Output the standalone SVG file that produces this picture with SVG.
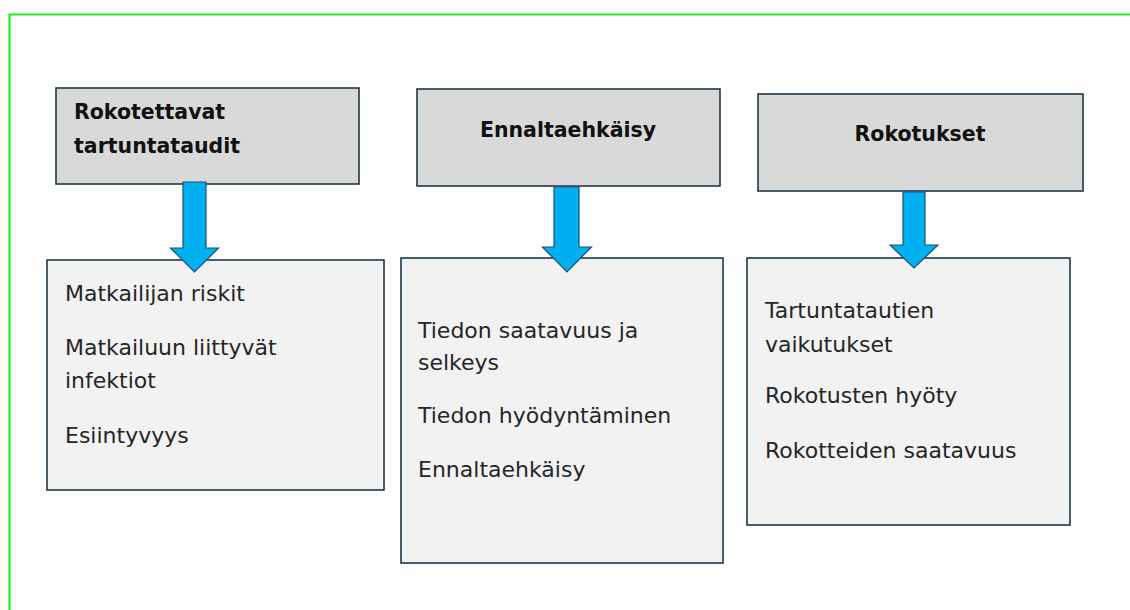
<svg xmlns="http://www.w3.org/2000/svg" width="1130" height="610" viewBox="0 0 1130 610">
<style>
.hdr{fill:#d9d9d9;stroke:#1f3646;stroke-width:1.6}
.body{fill:#f2f2f2;stroke:#1f3646;stroke-width:1.6}
.ht{font-family:"DejaVu Sans",sans-serif;font-weight:bold;font-size:20.5px;fill:#111}
.bt{font-family:"DejaVu Sans",sans-serif;font-size:22px;fill:#262626}
.arr{fill:#00b0f0;stroke:#1f4e79;stroke-width:1.2;stroke-linejoin:miter}
</style>
<rect x="0" y="0" width="1130" height="610" fill="#fdfdfd"/>
<path d="M9.5 610 V14.5 H1130" fill="none" stroke="#22ee22" stroke-width="2.2"/>
<g id="n1">
<rect class="hdr" x="56" y="88" width="303" height="96"/>
<text class="ht" x="74" y="119">Rokotettavat</text>
<text class="ht" x="74" y="153">tartuntataudit</text>
</g>
<g id="n2">
<rect class="hdr" x="417" y="89" width="303" height="97"/>
<text class="ht" x="568" y="137" text-anchor="middle">Ennaltaehkäisy</text>
</g>
<g id="n3">
<rect class="hdr" x="758" y="94" width="325" height="97"/>
<text class="ht" x="920" y="141" text-anchor="middle">Rokotukset</text>
</g>
<g id="n4">
<rect class="body" x="47" y="260" width="337" height="230"/>
<text class="bt" x="65" y="301">Matkailijan riskit</text>
<text class="bt" x="65" y="355">Matkailuun liittyvät</text>
<text class="bt" x="65" y="388">infektiot</text>
<text class="bt" x="65" y="443">Esiintyvyys</text>
</g>
<g id="n5">
<rect class="body" x="401" y="258" width="322" height="305"/>
<text class="bt" x="418" y="338">Tiedon saatavuus ja</text>
<text class="bt" x="418" y="370">selkeys</text>
<text class="bt" x="418" y="423">Tiedon hyödyntäminen</text>
<text class="bt" x="418" y="477">Ennaltaehkäisy</text>
</g>
<g id="n6">
<rect class="body" x="747" y="258" width="323" height="267"/>
<text class="bt" x="765" y="318">Tartuntatautien</text>
<text class="bt" x="765" y="352">vaikutukset</text>
<text class="bt" x="765" y="403">Rokotusten hyöty</text>
<text class="bt" x="765" y="458">Rokotteiden saatavuus</text>
</g>
<g id="connectors">
<path class="arr" d="M183 182 H206 V248 H218.5 L194.5 272 L170.5 248 H183 Z"/>
<path class="arr" d="M554 187 H579 V247 H591.5 L567 272 L542.5 247 H554 Z"/>
<path class="arr" d="M903 192 H925 V245 H938 L914 268 L890 245 H903 Z"/>
</g>
</svg>
